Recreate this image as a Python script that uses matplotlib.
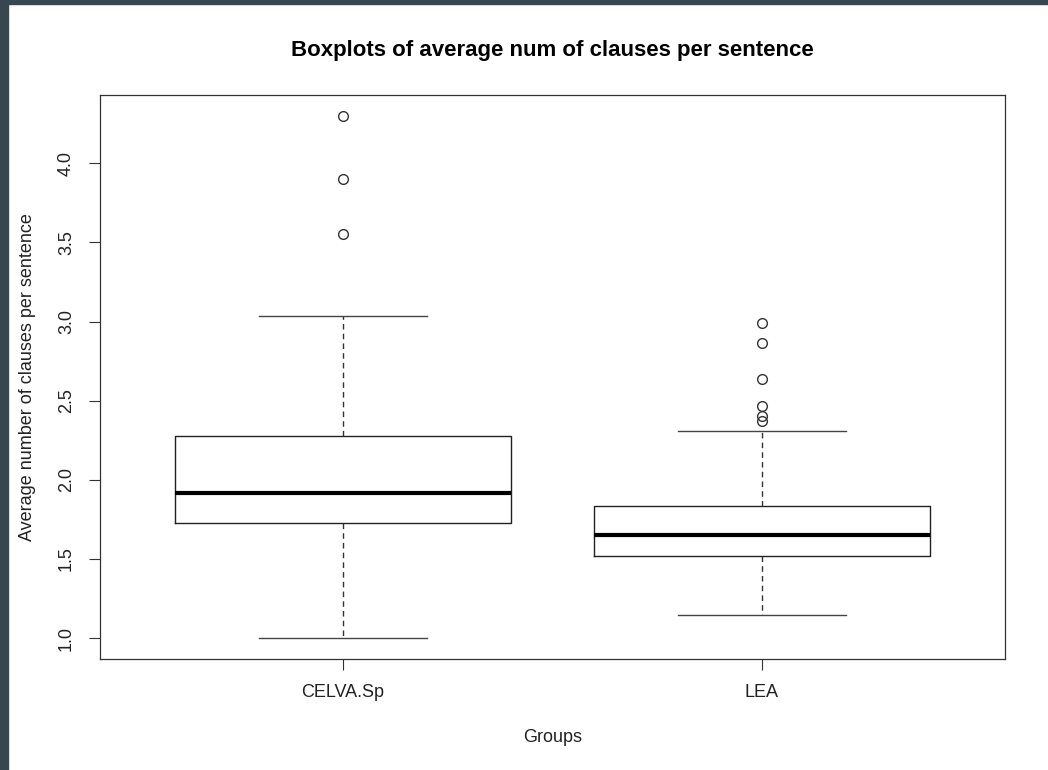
import matplotlib
matplotlib.use("Agg")
import matplotlib.pyplot as plt
from matplotlib.patches import Rectangle

plt.rcParams["font.family"] = ["Liberation Sans", "DejaVu Sans"]

groups = ["CELVA.Sp", "LEA"]
whisker_low = [1.00, 1.145]
q1 = [1.726, 1.516]
median = [1.916, 1.649]
q3 = [2.276, 1.834]
whisker_high = [3.034, 2.308]
outliers = [
    [4.298, 3.900, 3.552],
    [2.994, 2.868, 2.636, 2.466, 2.402, 2.375],
]

stats = []
for i, name in enumerate(groups):
    stats.append(dict(label=name, whislo=whisker_low[i], q1=q1[i], med=median[i],
                      q3=q3[i], whishi=whisker_high[i], fliers=outliers[i]))

fig = plt.figure(figsize=(10.48, 7.70), dpi=100)
ax = fig.add_axes([100 / 1048, 111 / 770, 905 / 1048, 564 / 770])

lw = 1.0
ax.bxp(stats, positions=[1, 2], widths=0.8, showfliers=True,
       boxprops=dict(color="#222222", linewidth=lw),
       medianprops=dict(color="black", linewidth=3.0),
       whiskerprops=dict(color="#333333", linewidth=lw, linestyle=(0, (4, 3))),
       capprops=dict(color="#444444", linewidth=lw),
       flierprops=dict(marker="o", markersize=7, markerfacecolor="none",
                       markeredgecolor="#333333", markeredgewidth=1.0))

ax.set_xlim(0.42, 2.58)
ax.set_ylim(0.868, 4.432)
ax.set_yticks([1.0, 1.5, 2.0, 2.5, 3.0, 3.5, 4.0])
ax.set_yticklabels(["1.0", "1.5", "2.0", "2.5", "3.0", "3.5", "4.0"],
                   rotation=90, va="center")
ax.set_xticks([1, 2])
ax.set_xticklabels(groups)
ax.tick_params(labelsize=13, length=8, width=0.8, color="#333333",
               labelcolor="#222222", pad=10)
for s in ax.spines.values():
    s.set_color("#333333")
    s.set_linewidth(0.9)

ax.set_title("Boxplots of average num of clauses per sentence",
             fontsize=16, fontweight="bold", pad=28)
ax.set_xlabel("Groups", fontsize=13, labelpad=20, color="#222222")
ax.set_ylabel("Average number of clauses per sentence", fontsize=13,
              labelpad=16, color="#222222")

# screenshot frame edges
fig.patches.append(Rectangle((0, 0), 8 / 1048, 1, transform=fig.transFigure,
                             color="#37474f", zorder=0))
fig.patches.append(Rectangle((0, 1 - 4 / 770), 1, 4 / 770, transform=fig.transFigure,
                             color="#37474f", zorder=0))

fig.savefig("out.png", dpi=100)
